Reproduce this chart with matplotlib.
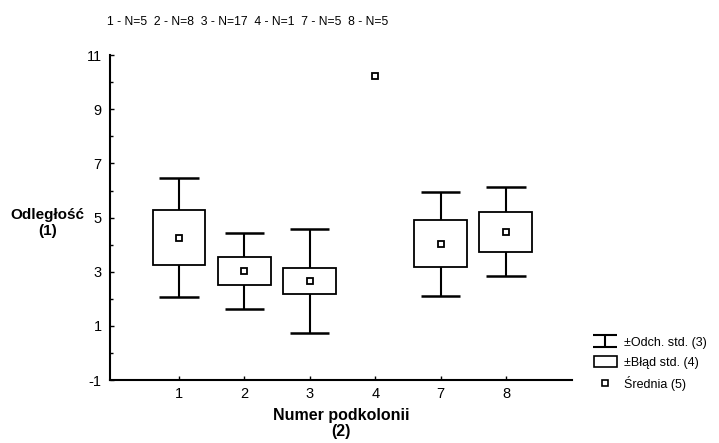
import matplotlib.pyplot as plt
import numpy as np
from matplotlib.patches import Rectangle
from matplotlib.lines import Line2D
from matplotlib.path import Path

plt.rcParams['font.family'] = ['Liberation Sans', 'DejaVu Sans']
plt.rcParams['axes.unicode_minus'] = False

categories = ['1', '2', '3', '4', '7', '8']
counts = [5, 8, 17, 1, 5, 5]
means = [4.26, 3.03, 2.66, 10.23, 4.03, 4.48]
std_err = [1.01, 0.505, 0.48, 0.0, 0.865, 0.745]
std_dev = [2.20, 1.39, 1.92, 0.0, 1.92, 1.64]

box_w = 0.81
cap_w = 0.60

fig = plt.figure(figsize=(7.19, 4.43), dpi=100)
ax = fig.add_axes([0.153, 0.142, 0.6426, 0.7336])

x = np.arange(len(categories))
for i in range(len(categories)):
    m = means[i]
    se = std_err[i]
    sd = std_dev[i]
    if sd > 0:
        ax.vlines(x[i], m + se, m + sd, color='black', lw=1.5, zorder=2)
        ax.vlines(x[i], m - sd, m - se, color='black', lw=1.5, zorder=2)
        ax.hlines([m - sd, m + sd], x[i] - cap_w / 2, x[i] + cap_w / 2, color='black', lw=1.8, zorder=2)
        ax.add_patch(Rectangle((x[i] - box_w / 2, m - se), box_w, 2 * se,
                               facecolor='white', edgecolor='black', lw=1.3, zorder=3))
    ax.plot(x[i], m, marker='s', ms=5, mfc='white', mec='black', mew=1.3, zorder=4)

ax.set_xlim(-1.055, 6.01)
ax.set_ylim(-1, 11)
ax.set_xticks(x)
ax.set_xticklabels(categories)
ax.set_yticks(np.arange(-1, 12, 2))
ax.set_yticks(np.arange(0, 11, 2), minor=True)
ax.tick_params(axis='both', which='major', direction='in', length=3, width=1, labelsize=10.5, pad=6)
ax.tick_params(axis='y', which='minor', direction='in', length=2, width=1)
ax.tick_params(axis='x', pad=5)
for s in ['top', 'right']:
    ax.spines[s].set_visible(False)
for s in ['left', 'bottom']:
    ax.spines[s].set_linewidth(1.5)

ax.set_xlabel('Numer podkolonii\n(2)', fontsize=11.5, fontweight='bold', linespacing=1.05, labelpad=5)
fig.text(0.066, 0.497, 'Odległość\n(1)', fontsize=11, fontweight='bold', ha='center', va='center',
         linespacing=1.15)

header = '  '.join('{0} - N={1}'.format(c, n) for c, n in zip(categories, counts))
fig.text(0.149, 0.95, header, fontsize=8.7, ha='left', va='center')

# legend
hbeam = Path([(-1, 0.5), (1, 0.5), (0, 0.5), (0, -0.5), (-1, -0.5), (1, -0.5)],
             [Path.MOVETO, Path.LINETO, Path.MOVETO, Path.LINETO, Path.MOVETO, Path.LINETO])
h1 = Line2D([], [], marker=hbeam, ms=17, mew=1.5, color='black', linestyle='none')
h2 = Rectangle((0, 0), 1, 1, facecolor='white', edgecolor='black', lw=1.2)
h3 = Line2D([], [], marker='s', ms=4.5, mfc='white', mec='black', mew=1.2, linestyle='none')
fig.legend([h1, h2, h3], ['±Odch. std. (3)', '±Błąd std. (4)', 'Średnia (5)'],
           loc='upper left', bbox_to_anchor=(0.822, 0.248), frameon=False, fontsize=9,
           handlelength=1.9, handleheight=1.0, handletextpad=0.55, labelspacing=0.6,
           borderpad=0.2, borderaxespad=0)

fig.savefig('out.png', dpi=100)
